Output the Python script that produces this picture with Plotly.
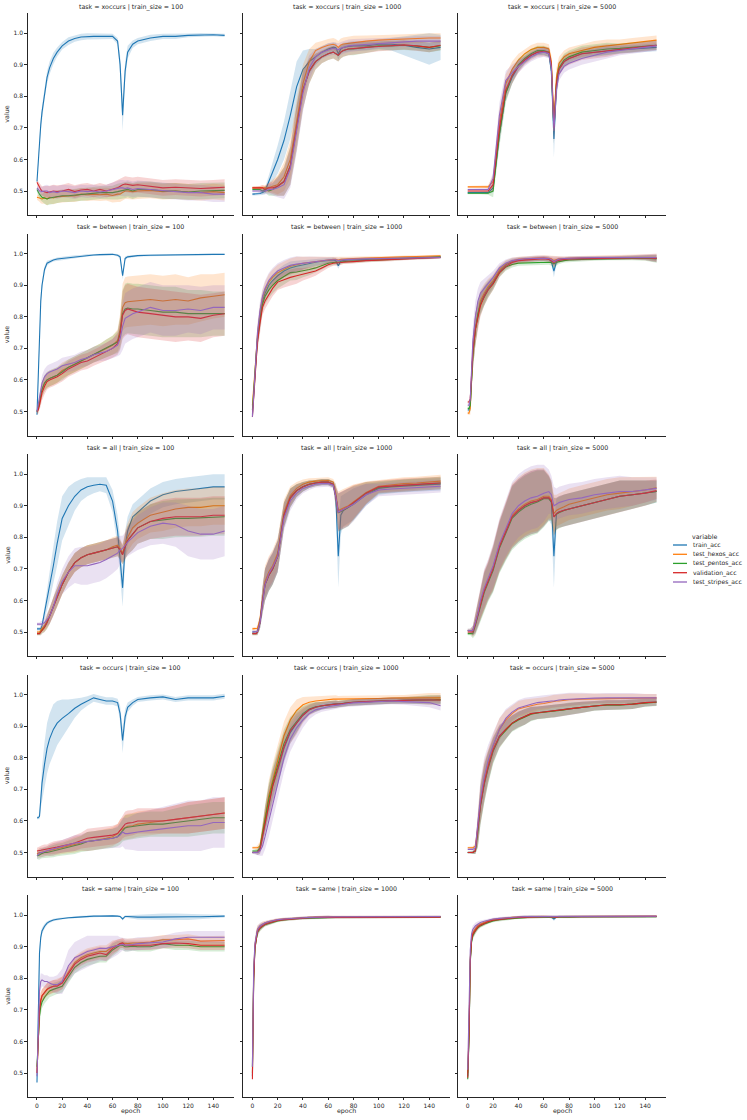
import plotly.graph_objects as go

# ---------------- data ----------------
EPOCHS = [0, 1, 2, 3, 4, 6, 8, 10, 13, 16, 20, 25, 30, 35, 40, 45, 50, 55, 60,
          64, 66, 68, 70, 72, 76, 80, 90, 100, 110, 120, 130, 140, 149]
TASKS = ["xoccurs", "between", "all", "occurs", "same"]
SIZES = [100, 1000, 5000]
SERIES = ["train_acc", "test_hexos_acc", "test_pentos_acc", "validation_acc", "test_stripes_acc"]
COLORS = ["#1f77b4", "#ff7f0e", "#2ca02c", "#d62728", "#9467bd"]
X_TICKS = [0, 20, 40, 60, 80, 100, 120, 140]
Y_TICKS = [0.5, 0.6, 0.7, 0.8, 0.9, 1.0]
Y_TICK_TEXT = ["0.5", "0.6", "0.7", "0.8", "0.9", "1.0"]

# ---- xoccurs / 100
xoccurs_100_train = [0.53, 0.60, 0.66, 0.71, 0.75, 0.81, 0.86, 0.89, 0.92, 0.94, 0.96, 0.975, 0.983, 0.988, 0.99, 0.99, 0.99, 0.99, 0.99, 0.975, 0.90, 0.74, 0.88, 0.94, 0.965, 0.975, 0.985, 0.99, 0.99, 0.993, 0.995, 0.995, 0.993]
xoccurs_100_hexos = [0.48, 0.48, 0.478, 0.476, 0.475, 0.478, 0.475, 0.48, 0.478, 0.482, 0.483, 0.485, 0.485, 0.49, 0.488, 0.49, 0.488, 0.49, 0.486, 0.49, 0.49, 0.495, 0.50, 0.50, 0.498, 0.50, 0.502, 0.498, 0.50, 0.497, 0.495, 0.498, 0.495]
xoccurs_100_pentos = [0.505, 0.495, 0.49, 0.485, 0.48, 0.478, 0.475, 0.478, 0.48, 0.482, 0.485, 0.485, 0.487, 0.49, 0.49, 0.492, 0.495, 0.495, 0.495, 0.498, 0.50, 0.50, 0.502, 0.505, 0.50, 0.505, 0.505, 0.50, 0.50, 0.497, 0.50, 0.50, 0.502]
xoccurs_100_val = [0.528, 0.52, 0.51, 0.505, 0.50, 0.498, 0.495, 0.497, 0.50, 0.498, 0.50, 0.505, 0.498, 0.503, 0.505, 0.50, 0.505, 0.50, 0.505, 0.51, 0.515, 0.52, 0.522, 0.52, 0.518, 0.52, 0.515, 0.51, 0.512, 0.51, 0.508, 0.51, 0.512]
xoccurs_100_stripes = [0.51, 0.505, 0.50, 0.50, 0.498, 0.50, 0.50, 0.495, 0.498, 0.495, 0.50, 0.498, 0.495, 0.50, 0.498, 0.50, 0.497, 0.50, 0.505, 0.508, 0.51, 0.51, 0.508, 0.51, 0.505, 0.508, 0.505, 0.50, 0.498, 0.495, 0.495, 0.49, 0.49]
xoccurs_100_ci_train = [0.005, 0.01, 0.015, 0.02, 0.02, 0.02, 0.02, 0.02, 0.018, 0.015, 0.012, 0.012, 0.01, 0.01, 0.01, 0.01, 0.008, 0.008, 0.008, 0.01, 0.03, 0.05, 0.03, 0.02, 0.012, 0.01, 0.01, 0.008, 0.008, 0.006, 0.006, 0.005, 0.005]
xoccurs_100_ci_test = [0.008, 0.01, 0.012, 0.015, 0.015, 0.018, 0.02, 0.02, 0.02, 0.02, 0.02, 0.02, 0.02, 0.02, 0.02, 0.02, 0.02, 0.02, 0.022, 0.025, 0.025, 0.025, 0.025, 0.025, 0.025, 0.025, 0.025, 0.025, 0.025, 0.025, 0.025, 0.025, 0.025]

# ---- xoccurs / 1000
xoccurs_1000_train = [0.49, 0.49, 0.49, 0.49, 0.49, 0.492, 0.495, 0.50, 0.53, 0.56, 0.60, 0.66, 0.74, 0.83, 0.885, 0.91, 0.925, 0.94, 0.95, 0.955, 0.955, 0.935, 0.95, 0.955, 0.958, 0.96, 0.96, 0.965, 0.965, 0.962, 0.955, 0.95, 0.955]
xoccurs_1000_hexos = [0.51, 0.51, 0.51, 0.51, 0.51, 0.51, 0.51, 0.508, 0.51, 0.515, 0.52, 0.545, 0.60, 0.72, 0.84, 0.91, 0.945, 0.955, 0.962, 0.965, 0.962, 0.955, 0.963, 0.966, 0.968, 0.972, 0.975, 0.978, 0.98, 0.982, 0.984, 0.985, 0.985]
xoccurs_1000_pentos = [0.505, 0.505, 0.505, 0.505, 0.505, 0.505, 0.50, 0.505, 0.50, 0.505, 0.515, 0.53, 0.58, 0.70, 0.82, 0.88, 0.91, 0.925, 0.935, 0.94, 0.935, 0.93, 0.94, 0.945, 0.95, 0.95, 0.955, 0.96, 0.96, 0.962, 0.96, 0.955, 0.96]
xoccurs_1000_val = [0.51, 0.51, 0.51, 0.51, 0.51, 0.51, 0.51, 0.505, 0.51, 0.51, 0.515, 0.53, 0.58, 0.70, 0.82, 0.88, 0.91, 0.925, 0.935, 0.94, 0.935, 0.93, 0.94, 0.945, 0.95, 0.952, 0.955, 0.958, 0.96, 0.963, 0.96, 0.955, 0.962]
xoccurs_1000_stripes = [0.50, 0.50, 0.50, 0.50, 0.50, 0.50, 0.50, 0.50, 0.505, 0.505, 0.51, 0.52, 0.57, 0.69, 0.81, 0.89, 0.925, 0.94, 0.948, 0.952, 0.95, 0.948, 0.952, 0.955, 0.96, 0.962, 0.965, 0.968, 0.97, 0.972, 0.975, 0.975, 0.975]
xoccurs_1000_ci_train = [0.004, 0.004, 0.004, 0.004, 0.004, 0.006, 0.008, 0.01, 0.02, 0.03, 0.045, 0.06, 0.075, 0.08, 0.06, 0.04, 0.025, 0.02, 0.018, 0.015, 0.015, 0.02, 0.015, 0.015, 0.015, 0.015, 0.015, 0.015, 0.02, 0.03, 0.04, 0.05, 0.04]
xoccurs_1000_ci_test = [0.004, 0.004, 0.004, 0.004, 0.004, 0.006, 0.008, 0.01, 0.015, 0.02, 0.03, 0.045, 0.06, 0.07, 0.06, 0.04, 0.025, 0.02, 0.02, 0.02, 0.02, 0.02, 0.02, 0.02, 0.02, 0.02, 0.018, 0.015, 0.015, 0.015, 0.015, 0.015, 0.015]

# ---- xoccurs / 5000
xoccurs_5000_train = [0.495, 0.495, 0.495, 0.495, 0.495, 0.495, 0.495, 0.495, 0.495, 0.495, 0.51, 0.68, 0.81, 0.86, 0.895, 0.915, 0.93, 0.94, 0.942, 0.935, 0.88, 0.665, 0.83, 0.885, 0.91, 0.92, 0.935, 0.94, 0.945, 0.948, 0.95, 0.952, 0.955]
xoccurs_5000_hexos = [0.513, 0.513, 0.513, 0.513, 0.513, 0.513, 0.513, 0.513, 0.513, 0.513, 0.53, 0.72, 0.84, 0.885, 0.915, 0.935, 0.948, 0.955, 0.955, 0.95, 0.91, 0.72, 0.86, 0.905, 0.925, 0.935, 0.945, 0.955, 0.96, 0.965, 0.97, 0.975, 0.978]
xoccurs_5000_pentos = [0.493, 0.493, 0.493, 0.493, 0.493, 0.493, 0.493, 0.493, 0.493, 0.493, 0.50, 0.68, 0.81, 0.865, 0.90, 0.92, 0.935, 0.945, 0.945, 0.94, 0.89, 0.69, 0.84, 0.89, 0.915, 0.925, 0.94, 0.945, 0.95, 0.952, 0.955, 0.96, 0.962]
xoccurs_5000_val = [0.50, 0.50, 0.50, 0.50, 0.50, 0.50, 0.50, 0.50, 0.50, 0.50, 0.52, 0.70, 0.82, 0.865, 0.895, 0.915, 0.93, 0.94, 0.942, 0.94, 0.90, 0.70, 0.84, 0.885, 0.91, 0.92, 0.935, 0.94, 0.945, 0.95, 0.955, 0.958, 0.962]
xoccurs_5000_stripes = [0.505, 0.505, 0.505, 0.505, 0.505, 0.505, 0.505, 0.505, 0.505, 0.505, 0.54, 0.74, 0.85, 0.875, 0.895, 0.91, 0.925, 0.935, 0.94, 0.935, 0.89, 0.69, 0.82, 0.87, 0.895, 0.905, 0.92, 0.93, 0.94, 0.945, 0.95, 0.955, 0.96]
xoccurs_5000_ci_train = [0.003, 0.003, 0.003, 0.003, 0.003, 0.003, 0.003, 0.003, 0.003, 0.004, 0.015, 0.03, 0.025, 0.02, 0.015, 0.012, 0.01, 0.01, 0.01, 0.012, 0.03, 0.06, 0.03, 0.02, 0.015, 0.012, 0.012, 0.012, 0.012, 0.012, 0.012, 0.012, 0.012]
xoccurs_5000_ci_test = [0.003, 0.003, 0.003, 0.003, 0.003, 0.003, 0.003, 0.003, 0.003, 0.005, 0.02, 0.04, 0.03, 0.025, 0.02, 0.015, 0.015, 0.015, 0.015, 0.015, 0.02, 0.04, 0.03, 0.02, 0.02, 0.02, 0.02, 0.02, 0.02, 0.015, 0.015, 0.015, 0.015]

# ---- between / 100
between_100_train = [0.49, 0.62, 0.75, 0.85, 0.90, 0.95, 0.97, 0.975, 0.98, 0.983, 0.985, 0.988, 0.99, 0.992, 0.995, 0.996, 0.997, 0.998, 0.998, 0.995, 0.99, 0.93, 0.985, 0.99, 0.992, 0.994, 0.995, 0.996, 0.997, 0.997, 0.997, 0.998, 0.998]
between_100_hexos = [0.50, 0.51, 0.53, 0.55, 0.57, 0.59, 0.60, 0.605, 0.61, 0.615, 0.63, 0.64, 0.65, 0.66, 0.67, 0.68, 0.69, 0.70, 0.71, 0.725, 0.76, 0.83, 0.845, 0.848, 0.85, 0.852, 0.855, 0.85, 0.855, 0.85, 0.86, 0.865, 0.87]
between_100_pentos = [0.50, 0.51, 0.53, 0.55, 0.57, 0.59, 0.60, 0.605, 0.61, 0.615, 0.625, 0.64, 0.65, 0.66, 0.67, 0.68, 0.69, 0.70, 0.71, 0.72, 0.75, 0.81, 0.825, 0.828, 0.825, 0.825, 0.82, 0.815, 0.815, 0.81, 0.81, 0.81, 0.81]
between_100_val = [0.50, 0.505, 0.52, 0.54, 0.56, 0.58, 0.595, 0.60, 0.605, 0.61, 0.62, 0.635, 0.645, 0.655, 0.66, 0.67, 0.68, 0.69, 0.70, 0.715, 0.745, 0.805, 0.82, 0.825, 0.82, 0.815, 0.81, 0.805, 0.80, 0.80, 0.795, 0.805, 0.81]
between_100_stripes = [0.50, 0.52, 0.55, 0.57, 0.59, 0.61, 0.62, 0.625, 0.63, 0.635, 0.645, 0.65, 0.655, 0.665, 0.67, 0.68, 0.685, 0.69, 0.70, 0.71, 0.73, 0.77, 0.795, 0.80, 0.81, 0.815, 0.83, 0.82, 0.82, 0.825, 0.82, 0.83, 0.83]
between_100_ci_train = [0.005, 0.02, 0.02, 0.02, 0.015, 0.01, 0.008, 0.006, 0.005, 0.005, 0.005, 0.005, 0.005, 0.004, 0.004, 0.003, 0.003, 0.003, 0.003, 0.004, 0.006, 0.012, 0.006, 0.004, 0.004, 0.003, 0.003, 0.003, 0.003, 0.003, 0.003, 0.002, 0.002]
between_100_ci_test = [0.008, 0.012, 0.018, 0.022, 0.025, 0.025, 0.025, 0.025, 0.025, 0.025, 0.025, 0.025, 0.025, 0.025, 0.025, 0.025, 0.025, 0.028, 0.03, 0.035, 0.05, 0.075, 0.08, 0.08, 0.08, 0.08, 0.08, 0.08, 0.08, 0.075, 0.075, 0.07, 0.07]

# ---- between / 1000
between_1000_train = [0.49, 0.55, 0.62, 0.68, 0.73, 0.80, 0.85, 0.875, 0.90, 0.915, 0.93, 0.945, 0.955, 0.96, 0.965, 0.97, 0.973, 0.976, 0.978, 0.98, 0.978, 0.962, 0.977, 0.979, 0.98, 0.98, 0.982, 0.984, 0.985, 0.987, 0.988, 0.99, 0.99]
between_1000_hexos = [0.52, 0.57, 0.63, 0.69, 0.74, 0.81, 0.86, 0.885, 0.91, 0.925, 0.94, 0.95, 0.96, 0.965, 0.97, 0.972, 0.975, 0.978, 0.98, 0.982, 0.982, 0.98, 0.982, 0.983, 0.984, 0.985, 0.986, 0.988, 0.989, 0.99, 0.991, 0.992, 0.993]
between_1000_pentos = [0.505, 0.55, 0.62, 0.68, 0.73, 0.79, 0.84, 0.865, 0.885, 0.90, 0.915, 0.928, 0.94, 0.942, 0.945, 0.95, 0.955, 0.962, 0.97, 0.972, 0.973, 0.972, 0.974, 0.975, 0.976, 0.977, 0.978, 0.98, 0.982, 0.984, 0.986, 0.988, 0.989]
between_1000_val = [0.483, 0.54, 0.61, 0.67, 0.72, 0.78, 0.83, 0.85, 0.87, 0.89, 0.91, 0.918, 0.925, 0.93, 0.935, 0.94, 0.945, 0.955, 0.965, 0.97, 0.97, 0.97, 0.972, 0.973, 0.975, 0.975, 0.978, 0.98, 0.98, 0.983, 0.985, 0.987, 0.988]
between_1000_stripes = [0.483, 0.55, 0.63, 0.70, 0.75, 0.82, 0.865, 0.89, 0.915, 0.93, 0.945, 0.955, 0.963, 0.967, 0.97, 0.973, 0.975, 0.978, 0.98, 0.981, 0.981, 0.978, 0.98, 0.981, 0.982, 0.982, 0.984, 0.985, 0.986, 0.987, 0.988, 0.988, 0.988]
between_1000_ci_train = [0.005, 0.02, 0.03, 0.03, 0.03, 0.03, 0.025, 0.02, 0.02, 0.02, 0.02, 0.02, 0.02, 0.018, 0.015, 0.012, 0.01, 0.01, 0.008, 0.008, 0.008, 0.01, 0.008, 0.006, 0.006, 0.006, 0.005, 0.005, 0.004, 0.004, 0.004, 0.004, 0.004]
between_1000_ci_test = [0.005, 0.02, 0.03, 0.03, 0.03, 0.03, 0.025, 0.025, 0.025, 0.025, 0.025, 0.025, 0.025, 0.025, 0.02, 0.018, 0.015, 0.012, 0.01, 0.008, 0.008, 0.008, 0.008, 0.006, 0.006, 0.006, 0.005, 0.005, 0.004, 0.004, 0.004, 0.004, 0.004]

# ---- between / 5000
between_5000_train = [0.505, 0.505, 0.52, 0.60, 0.68, 0.76, 0.81, 0.845, 0.87, 0.89, 0.91, 0.945, 0.965, 0.975, 0.98, 0.982, 0.983, 0.984, 0.985, 0.983, 0.975, 0.945, 0.975, 0.98, 0.982, 0.984, 0.985, 0.986, 0.987, 0.988, 0.988, 0.988, 0.985]
between_5000_hexos = [0.495, 0.495, 0.51, 0.60, 0.68, 0.76, 0.81, 0.85, 0.875, 0.895, 0.915, 0.948, 0.967, 0.977, 0.982, 0.984, 0.985, 0.986, 0.987, 0.986, 0.984, 0.978, 0.982, 0.984, 0.985, 0.986, 0.987, 0.988, 0.988, 0.989, 0.989, 0.99, 0.988]
between_5000_pentos = [0.51, 0.51, 0.52, 0.60, 0.68, 0.76, 0.81, 0.84, 0.865, 0.885, 0.905, 0.94, 0.958, 0.966, 0.97, 0.971, 0.972, 0.972, 0.973, 0.973, 0.972, 0.968, 0.972, 0.975, 0.978, 0.98, 0.982, 0.983, 0.984, 0.985, 0.985, 0.986, 0.983]
between_5000_val = [0.53, 0.53, 0.54, 0.61, 0.69, 0.76, 0.80, 0.835, 0.865, 0.885, 0.905, 0.94, 0.96, 0.972, 0.978, 0.98, 0.982, 0.983, 0.984, 0.982, 0.978, 0.972, 0.978, 0.98, 0.982, 0.983, 0.984, 0.985, 0.986, 0.987, 0.987, 0.987, 0.985]
between_5000_stripes = [0.52, 0.52, 0.54, 0.63, 0.72, 0.80, 0.85, 0.875, 0.89, 0.905, 0.925, 0.955, 0.97, 0.978, 0.982, 0.984, 0.985, 0.986, 0.986, 0.985, 0.982, 0.975, 0.98, 0.983, 0.985, 0.986, 0.987, 0.988, 0.988, 0.988, 0.989, 0.99, 0.988]
between_5000_ci_train = [0.005, 0.005, 0.02, 0.04, 0.05, 0.05, 0.04, 0.035, 0.03, 0.025, 0.02, 0.015, 0.012, 0.01, 0.008, 0.008, 0.008, 0.008, 0.008, 0.008, 0.01, 0.02, 0.01, 0.008, 0.006, 0.006, 0.006, 0.005, 0.005, 0.005, 0.006, 0.008, 0.012]
between_5000_ci_test = [0.005, 0.005, 0.02, 0.04, 0.05, 0.05, 0.04, 0.035, 0.03, 0.025, 0.02, 0.015, 0.012, 0.01, 0.008, 0.008, 0.008, 0.008, 0.008, 0.008, 0.01, 0.015, 0.01, 0.008, 0.006, 0.006, 0.006, 0.005, 0.005, 0.005, 0.006, 0.008, 0.012]

# ---- all / 100
all_100_train = [0.51, 0.51, 0.51, 0.51, 0.52, 0.56, 0.60, 0.645, 0.71, 0.78, 0.86, 0.90, 0.93, 0.95, 0.96, 0.965, 0.968, 0.965, 0.915, 0.82, 0.74, 0.64, 0.77, 0.82, 0.865, 0.88, 0.915, 0.935, 0.945, 0.95, 0.955, 0.96, 0.96]
all_100_hexos = [0.50, 0.50, 0.50, 0.505, 0.51, 0.52, 0.535, 0.55, 0.58, 0.61, 0.65, 0.69, 0.72, 0.735, 0.745, 0.75, 0.755, 0.76, 0.77, 0.775, 0.765, 0.75, 0.78, 0.80, 0.83, 0.845, 0.87, 0.88, 0.89, 0.895, 0.895, 0.90, 0.90]
all_100_pentos = [0.495, 0.495, 0.495, 0.50, 0.505, 0.515, 0.53, 0.55, 0.58, 0.61, 0.65, 0.69, 0.72, 0.735, 0.745, 0.75, 0.755, 0.76, 0.765, 0.77, 0.76, 0.745, 0.77, 0.79, 0.81, 0.83, 0.85, 0.855, 0.86, 0.86, 0.862, 0.865, 0.865]
all_100_val = [0.495, 0.495, 0.495, 0.50, 0.505, 0.515, 0.53, 0.55, 0.58, 0.61, 0.65, 0.69, 0.72, 0.735, 0.745, 0.75, 0.755, 0.76, 0.765, 0.77, 0.76, 0.745, 0.77, 0.79, 0.81, 0.83, 0.85, 0.86, 0.865, 0.865, 0.865, 0.87, 0.87]
all_100_stripes = [0.525, 0.525, 0.525, 0.525, 0.525, 0.53, 0.54, 0.55, 0.58, 0.62, 0.66, 0.69, 0.71, 0.71, 0.71, 0.715, 0.72, 0.73, 0.74, 0.75, 0.76, 0.765, 0.775, 0.785, 0.80, 0.815, 0.835, 0.845, 0.84, 0.82, 0.81, 0.81, 0.82]
all_100_ci_train = [0.005, 0.005, 0.005, 0.008, 0.01, 0.02, 0.03, 0.045, 0.06, 0.07, 0.07, 0.06, 0.045, 0.035, 0.03, 0.025, 0.022, 0.025, 0.035, 0.05, 0.06, 0.06, 0.05, 0.045, 0.04, 0.04, 0.04, 0.04, 0.04, 0.04, 0.04, 0.04, 0.04]
all_100_ci_test = [0.005, 0.005, 0.005, 0.01, 0.01, 0.015, 0.02, 0.025, 0.03, 0.03, 0.03, 0.03, 0.03, 0.03, 0.03, 0.03, 0.03, 0.03, 0.03, 0.03, 0.03, 0.03, 0.04, 0.045, 0.05, 0.05, 0.055, 0.06, 0.06, 0.06, 0.06, 0.06, 0.06]
all_100_ci_stripes = [0.005, 0.005, 0.005, 0.01, 0.01, 0.015, 0.02, 0.025, 0.03, 0.035, 0.04, 0.05, 0.055, 0.06, 0.06, 0.06, 0.06, 0.06, 0.055, 0.05, 0.045, 0.04, 0.04, 0.045, 0.05, 0.055, 0.06, 0.065, 0.07, 0.08, 0.08, 0.08, 0.08]

# ---- all / 1000
all_1000_train = [0.50, 0.50, 0.50, 0.50, 0.502, 0.53, 0.60, 0.65, 0.68, 0.70, 0.74, 0.87, 0.925, 0.948, 0.96, 0.968, 0.972, 0.975, 0.975, 0.968, 0.93, 0.74, 0.87, 0.885, 0.895, 0.905, 0.935, 0.955, 0.96, 0.963, 0.965, 0.967, 0.968]
all_1000_hexos = [0.51, 0.51, 0.51, 0.51, 0.512, 0.54, 0.61, 0.66, 0.69, 0.71, 0.75, 0.88, 0.932, 0.955, 0.968, 0.975, 0.978, 0.98, 0.98, 0.975, 0.94, 0.885, 0.89, 0.893, 0.90, 0.912, 0.942, 0.962, 0.967, 0.97, 0.972, 0.975, 0.978]
all_1000_pentos = [0.495, 0.495, 0.495, 0.495, 0.50, 0.53, 0.60, 0.65, 0.68, 0.70, 0.74, 0.87, 0.925, 0.948, 0.96, 0.968, 0.972, 0.975, 0.975, 0.968, 0.93, 0.878, 0.882, 0.886, 0.895, 0.908, 0.94, 0.958, 0.962, 0.965, 0.967, 0.97, 0.972]
all_1000_val = [0.495, 0.495, 0.495, 0.495, 0.50, 0.53, 0.60, 0.65, 0.68, 0.70, 0.74, 0.87, 0.925, 0.948, 0.96, 0.968, 0.972, 0.975, 0.975, 0.968, 0.93, 0.88, 0.884, 0.888, 0.897, 0.91, 0.94, 0.96, 0.963, 0.966, 0.968, 0.97, 0.972]
all_1000_stripes = [0.50, 0.50, 0.50, 0.50, 0.502, 0.53, 0.60, 0.65, 0.685, 0.705, 0.74, 0.86, 0.915, 0.94, 0.955, 0.962, 0.968, 0.97, 0.97, 0.965, 0.93, 0.88, 0.884, 0.888, 0.895, 0.905, 0.935, 0.95, 0.953, 0.955, 0.957, 0.96, 0.962]
all_1000_ci_train = [0.005, 0.005, 0.005, 0.005, 0.01, 0.02, 0.04, 0.05, 0.05, 0.05, 0.05, 0.04, 0.03, 0.02, 0.015, 0.012, 0.01, 0.01, 0.01, 0.01, 0.04, 0.10, 0.06, 0.05, 0.05, 0.05, 0.035, 0.02, 0.02, 0.02, 0.02, 0.02, 0.02]
all_1000_ci_test = [0.005, 0.005, 0.005, 0.005, 0.01, 0.02, 0.04, 0.05, 0.05, 0.05, 0.05, 0.04, 0.03, 0.02, 0.015, 0.012, 0.01, 0.01, 0.01, 0.01, 0.03, 0.06, 0.06, 0.06, 0.06, 0.055, 0.035, 0.02, 0.02, 0.02, 0.02, 0.02, 0.02]

# ---- all / 5000
all_5000_train = [0.505, 0.505, 0.505, 0.505, 0.505, 0.525, 0.555, 0.59, 0.63, 0.66, 0.70, 0.77, 0.82, 0.865, 0.885, 0.90, 0.91, 0.915, 0.925, 0.925, 0.91, 0.74, 0.875, 0.88, 0.886, 0.89, 0.90, 0.91, 0.92, 0.93, 0.935, 0.94, 0.945]
all_5000_hexos = [0.505, 0.505, 0.505, 0.505, 0.505, 0.53, 0.56, 0.595, 0.635, 0.665, 0.705, 0.775, 0.825, 0.87, 0.89, 0.905, 0.915, 0.92, 0.93, 0.93, 0.92, 0.875, 0.885, 0.89, 0.897, 0.905, 0.915, 0.925, 0.935, 0.94, 0.945, 0.95, 0.957]
all_5000_pentos = [0.495, 0.495, 0.495, 0.495, 0.495, 0.52, 0.55, 0.585, 0.625, 0.655, 0.695, 0.765, 0.815, 0.86, 0.88, 0.895, 0.905, 0.912, 0.922, 0.922, 0.912, 0.865, 0.873, 0.878, 0.885, 0.89, 0.90, 0.91, 0.92, 0.93, 0.935, 0.94, 0.945]
all_5000_val = [0.50, 0.50, 0.50, 0.50, 0.50, 0.525, 0.555, 0.59, 0.63, 0.66, 0.70, 0.77, 0.82, 0.865, 0.885, 0.90, 0.91, 0.915, 0.925, 0.925, 0.915, 0.865, 0.875, 0.88, 0.886, 0.89, 0.90, 0.91, 0.92, 0.93, 0.935, 0.94, 0.948]
all_5000_stripes = [0.505, 0.505, 0.505, 0.505, 0.505, 0.53, 0.56, 0.60, 0.64, 0.67, 0.71, 0.78, 0.83, 0.875, 0.90, 0.915, 0.925, 0.93, 0.94, 0.945, 0.935, 0.90, 0.905, 0.91, 0.915, 0.92, 0.925, 0.935, 0.94, 0.945, 0.945, 0.95, 0.955]
all_5000_ci_train = [0.005, 0.005, 0.005, 0.01, 0.015, 0.03, 0.04, 0.05, 0.06, 0.06, 0.07, 0.08, 0.09, 0.10, 0.10, 0.10, 0.10, 0.10, 0.09, 0.07, 0.07, 0.10, 0.05, 0.05, 0.05, 0.05, 0.05, 0.05, 0.05, 0.05, 0.045, 0.04, 0.035]
all_5000_ci_test = [0.005, 0.005, 0.005, 0.01, 0.015, 0.03, 0.04, 0.05, 0.06, 0.06, 0.07, 0.08, 0.09, 0.10, 0.10, 0.10, 0.10, 0.10, 0.09, 0.07, 0.06, 0.06, 0.05, 0.05, 0.05, 0.05, 0.05, 0.05, 0.05, 0.05, 0.045, 0.04, 0.035]

# ---- occurs / 100
occurs_100_train = [0.61, 0.61, 0.615, 0.67, 0.72, 0.78, 0.83, 0.86, 0.89, 0.91, 0.925, 0.94, 0.957, 0.97, 0.98, 0.99, 0.985, 0.98, 0.98, 0.975, 0.94, 0.855, 0.93, 0.96, 0.975, 0.985, 0.99, 0.993, 0.985, 0.99, 0.99, 0.99, 0.995]
occurs_100_hexos = [0.495, 0.498, 0.50, 0.50, 0.50, 0.502, 0.505, 0.507, 0.51, 0.512, 0.515, 0.52, 0.525, 0.53, 0.535, 0.537, 0.54, 0.545, 0.55, 0.56, 0.57, 0.575, 0.58, 0.583, 0.585, 0.59, 0.595, 0.60, 0.605, 0.61, 0.615, 0.62, 0.625]
occurs_100_pentos = [0.49, 0.49, 0.492, 0.495, 0.497, 0.50, 0.50, 0.502, 0.505, 0.508, 0.51, 0.515, 0.52, 0.527, 0.535, 0.538, 0.54, 0.543, 0.545, 0.55, 0.56, 0.57, 0.578, 0.58, 0.583, 0.585, 0.59, 0.59, 0.595, 0.60, 0.605, 0.61, 0.61]
occurs_100_val = [0.505, 0.505, 0.505, 0.507, 0.508, 0.51, 0.51, 0.512, 0.515, 0.517, 0.52, 0.525, 0.53, 0.538, 0.545, 0.548, 0.55, 0.553, 0.555, 0.56, 0.57, 0.58, 0.59, 0.593, 0.595, 0.60, 0.60, 0.60, 0.605, 0.61, 0.615, 0.62, 0.625]
occurs_100_stripes = [0.49, 0.495, 0.498, 0.50, 0.50, 0.503, 0.505, 0.507, 0.51, 0.515, 0.52, 0.525, 0.53, 0.532, 0.535, 0.537, 0.54, 0.543, 0.545, 0.55, 0.555, 0.565, 0.56, 0.56, 0.563, 0.565, 0.57, 0.575, 0.58, 0.585, 0.585, 0.595, 0.595]
occurs_100_ci_train = [0.005, 0.005, 0.01, 0.03, 0.05, 0.07, 0.08, 0.08, 0.08, 0.07, 0.06, 0.045, 0.03, 0.02, 0.015, 0.012, 0.012, 0.012, 0.012, 0.012, 0.025, 0.04, 0.025, 0.015, 0.01, 0.008, 0.008, 0.008, 0.008, 0.008, 0.008, 0.008, 0.008]
occurs_100_ci_test = [0.01, 0.012, 0.015, 0.015, 0.015, 0.015, 0.015, 0.018, 0.02, 0.02, 0.02, 0.022, 0.025, 0.025, 0.03, 0.03, 0.03, 0.03, 0.03, 0.03, 0.035, 0.035, 0.04, 0.04, 0.04, 0.04, 0.04, 0.04, 0.045, 0.05, 0.05, 0.05, 0.05]
occurs_100_ci_stripes = [0.01, 0.012, 0.015, 0.015, 0.015, 0.015, 0.015, 0.018, 0.02, 0.02, 0.02, 0.022, 0.025, 0.025, 0.03, 0.03, 0.03, 0.03, 0.03, 0.035, 0.04, 0.045, 0.05, 0.05, 0.055, 0.06, 0.065, 0.07, 0.075, 0.08, 0.08, 0.08, 0.08]

# ---- occurs / 1000
occurs_1000_train = [0.50, 0.50, 0.50, 0.50, 0.50, 0.51, 0.55, 0.60, 0.66, 0.71, 0.76, 0.83, 0.88, 0.91, 0.935, 0.952, 0.96, 0.965, 0.968, 0.97, 0.97, 0.97, 0.972, 0.972, 0.974, 0.976, 0.978, 0.98, 0.981, 0.982, 0.983, 0.983, 0.983]
occurs_1000_hexos = [0.515, 0.515, 0.515, 0.515, 0.515, 0.52, 0.56, 0.61, 0.68, 0.73, 0.79, 0.87, 0.92, 0.95, 0.968, 0.976, 0.98, 0.983, 0.985, 0.986, 0.986, 0.986, 0.987, 0.987, 0.987, 0.987, 0.988, 0.988, 0.989, 0.989, 0.99, 0.99, 0.99]
occurs_1000_pentos = [0.505, 0.505, 0.505, 0.505, 0.505, 0.515, 0.56, 0.61, 0.67, 0.72, 0.775, 0.845, 0.89, 0.915, 0.94, 0.955, 0.962, 0.965, 0.968, 0.97, 0.97, 0.97, 0.972, 0.973, 0.975, 0.976, 0.978, 0.98, 0.981, 0.982, 0.983, 0.984, 0.984]
occurs_1000_val = [0.50, 0.50, 0.50, 0.50, 0.50, 0.51, 0.55, 0.60, 0.66, 0.71, 0.765, 0.835, 0.885, 0.91, 0.935, 0.952, 0.96, 0.965, 0.968, 0.97, 0.97, 0.97, 0.972, 0.972, 0.974, 0.976, 0.978, 0.98, 0.981, 0.982, 0.983, 0.983, 0.983]
occurs_1000_stripes = [0.50, 0.50, 0.50, 0.50, 0.50, 0.505, 0.52, 0.55, 0.60, 0.65, 0.72, 0.80, 0.86, 0.895, 0.92, 0.94, 0.952, 0.958, 0.962, 0.965, 0.967, 0.967, 0.968, 0.97, 0.972, 0.974, 0.976, 0.978, 0.98, 0.978, 0.977, 0.975, 0.965]
occurs_1000_ci_train = [0.004, 0.004, 0.004, 0.005, 0.008, 0.015, 0.03, 0.04, 0.05, 0.05, 0.05, 0.045, 0.035, 0.03, 0.02, 0.015, 0.015, 0.012, 0.012, 0.012, 0.012, 0.01, 0.01, 0.01, 0.01, 0.01, 0.01, 0.01, 0.01, 0.01, 0.01, 0.012, 0.012]
occurs_1000_ci_test = [0.004, 0.004, 0.004, 0.005, 0.008, 0.015, 0.03, 0.04, 0.05, 0.05, 0.05, 0.045, 0.04, 0.035, 0.025, 0.018, 0.015, 0.012, 0.012, 0.012, 0.012, 0.01, 0.01, 0.01, 0.01, 0.01, 0.01, 0.01, 0.01, 0.01, 0.012, 0.015, 0.015]

# ---- occurs / 5000
occurs_5000_train = [0.50, 0.50, 0.50, 0.50, 0.50, 0.505, 0.57, 0.65, 0.72, 0.77, 0.825, 0.87, 0.89, 0.91, 0.922, 0.93, 0.94, 0.943, 0.945, 0.947, 0.948, 0.948, 0.95, 0.95, 0.952, 0.955, 0.96, 0.965, 0.968, 0.968, 0.97, 0.975, 0.977]
occurs_5000_hexos = [0.515, 0.515, 0.515, 0.515, 0.515, 0.52, 0.58, 0.66, 0.73, 0.78, 0.835, 0.89, 0.92, 0.94, 0.955, 0.96, 0.965, 0.97, 0.972, 0.975, 0.978, 0.98, 0.98, 0.98, 0.982, 0.984, 0.986, 0.987, 0.988, 0.988, 0.989, 0.99, 0.99]
occurs_5000_pentos = [0.50, 0.50, 0.50, 0.50, 0.50, 0.505, 0.565, 0.645, 0.715, 0.765, 0.82, 0.865, 0.888, 0.908, 0.92, 0.93, 0.938, 0.942, 0.944, 0.946, 0.947, 0.948, 0.95, 0.95, 0.952, 0.955, 0.96, 0.964, 0.967, 0.967, 0.97, 0.974, 0.976]
occurs_5000_val = [0.50, 0.50, 0.50, 0.50, 0.50, 0.505, 0.57, 0.65, 0.72, 0.77, 0.825, 0.868, 0.89, 0.91, 0.922, 0.93, 0.94, 0.943, 0.945, 0.947, 0.948, 0.948, 0.95, 0.95, 0.952, 0.955, 0.96, 0.965, 0.968, 0.968, 0.97, 0.975, 0.977]
occurs_5000_stripes = [0.51, 0.51, 0.51, 0.51, 0.51, 0.515, 0.585, 0.67, 0.74, 0.79, 0.84, 0.89, 0.925, 0.945, 0.958, 0.965, 0.97, 0.975, 0.978, 0.98, 0.98, 0.98, 0.982, 0.983, 0.985, 0.986, 0.988, 0.989, 0.99, 0.99, 0.99, 0.99, 0.99]
occurs_5000_ci_train = [0.003, 0.003, 0.003, 0.003, 0.005, 0.01, 0.05, 0.06, 0.06, 0.05, 0.04, 0.035, 0.03, 0.025, 0.025, 0.025, 0.022, 0.02, 0.02, 0.02, 0.02, 0.02, 0.02, 0.02, 0.02, 0.02, 0.018, 0.015, 0.015, 0.015, 0.015, 0.012, 0.012]
occurs_5000_ci_test = [0.003, 0.003, 0.003, 0.003, 0.005, 0.01, 0.05, 0.06, 0.06, 0.05, 0.04, 0.035, 0.03, 0.025, 0.025, 0.025, 0.022, 0.02, 0.02, 0.02, 0.02, 0.02, 0.02, 0.02, 0.02, 0.02, 0.018, 0.015, 0.015, 0.015, 0.015, 0.012, 0.012]

# ---- same / 100
same_100_train = [0.47, 0.75, 0.88, 0.93, 0.95, 0.965, 0.975, 0.98, 0.985, 0.987, 0.99, 0.992, 0.993, 0.995, 0.996, 0.997, 0.997, 0.998, 0.998, 0.997, 0.996, 0.988, 0.996, 0.996, 0.995, 0.994, 0.994, 0.995, 0.995, 0.995, 0.995, 0.996, 0.997]
same_100_hexos = [0.50, 0.62, 0.70, 0.73, 0.745, 0.755, 0.765, 0.77, 0.775, 0.78, 0.785, 0.82, 0.85, 0.865, 0.875, 0.88, 0.885, 0.885, 0.90, 0.905, 0.91, 0.912, 0.91, 0.91, 0.912, 0.912, 0.915, 0.922, 0.922, 0.925, 0.918, 0.92, 0.92]
same_100_pentos = [0.52, 0.61, 0.68, 0.71, 0.725, 0.74, 0.75, 0.76, 0.765, 0.77, 0.775, 0.805, 0.835, 0.85, 0.86, 0.865, 0.87, 0.87, 0.89, 0.90, 0.905, 0.905, 0.90, 0.90, 0.902, 0.90, 0.90, 0.91, 0.905, 0.905, 0.90, 0.90, 0.90]
same_100_val = [0.50, 0.62, 0.70, 0.73, 0.745, 0.755, 0.765, 0.77, 0.775, 0.775, 0.785, 0.815, 0.845, 0.86, 0.87, 0.875, 0.88, 0.875, 0.895, 0.905, 0.91, 0.912, 0.905, 0.905, 0.905, 0.905, 0.905, 0.91, 0.912, 0.91, 0.905, 0.905, 0.905]
same_100_stripes = [0.49, 0.65, 0.76, 0.79, 0.795, 0.79, 0.79, 0.785, 0.78, 0.78, 0.79, 0.84, 0.865, 0.875, 0.885, 0.89, 0.895, 0.895, 0.90, 0.905, 0.905, 0.908, 0.905, 0.905, 0.907, 0.91, 0.912, 0.915, 0.925, 0.93, 0.93, 0.93, 0.93]
same_100_ci_train = [0.005, 0.03, 0.02, 0.015, 0.01, 0.008, 0.006, 0.005, 0.004, 0.004, 0.003, 0.003, 0.003, 0.003, 0.003, 0.003, 0.003, 0.003, 0.003, 0.003, 0.003, 0.005, 0.004, 0.004, 0.006, 0.008, 0.01, 0.01, 0.01, 0.01, 0.008, 0.006, 0.004]
same_100_ci_test = [0.01, 0.03, 0.03, 0.025, 0.02, 0.02, 0.02, 0.02, 0.02, 0.02, 0.02, 0.02, 0.02, 0.02, 0.02, 0.02, 0.02, 0.02, 0.02, 0.018, 0.015, 0.015, 0.015, 0.015, 0.015, 0.015, 0.015, 0.015, 0.015, 0.015, 0.015, 0.015, 0.015]
same_100_ci_stripes = [0.01, 0.03, 0.03, 0.025, 0.02, 0.02, 0.02, 0.02, 0.025, 0.03, 0.04, 0.05, 0.05, 0.05, 0.05, 0.045, 0.04, 0.04, 0.035, 0.03, 0.025, 0.02, 0.02, 0.02, 0.02, 0.02, 0.02, 0.02, 0.02, 0.02, 0.02, 0.02, 0.02]

# ---- same / 1000
same_1000_train = [0.49, 0.80, 0.90, 0.935, 0.95, 0.962, 0.968, 0.972, 0.976, 0.98, 0.984, 0.987, 0.989, 0.99, 0.991, 0.992, 0.993, 0.993, 0.994, 0.994, 0.994, 0.994, 0.994, 0.994, 0.994, 0.995, 0.995, 0.995, 0.995, 0.995, 0.995, 0.995, 0.995]
same_1000_hexos = [0.50, 0.81, 0.905, 0.94, 0.955, 0.965, 0.972, 0.976, 0.98, 0.983, 0.986, 0.988, 0.99, 0.991, 0.992, 0.993, 0.994, 0.994, 0.995, 0.995, 0.995, 0.995, 0.995, 0.995, 0.995, 0.995, 0.996, 0.996, 0.996, 0.996, 0.996, 0.996, 0.996]
same_1000_pentos = [0.52, 0.80, 0.895, 0.93, 0.945, 0.958, 0.965, 0.97, 0.974, 0.978, 0.982, 0.985, 0.988, 0.989, 0.99, 0.991, 0.992, 0.992, 0.993, 0.993, 0.993, 0.993, 0.993, 0.993, 0.993, 0.993, 0.994, 0.994, 0.994, 0.994, 0.994, 0.994, 0.994]
same_1000_val = [0.48, 0.79, 0.895, 0.93, 0.948, 0.96, 0.967, 0.971, 0.975, 0.979, 0.983, 0.986, 0.988, 0.99, 0.991, 0.992, 0.993, 0.993, 0.993, 0.993, 0.993, 0.993, 0.993, 0.993, 0.993, 0.993, 0.994, 0.994, 0.994, 0.994, 0.994, 0.994, 0.994]
same_1000_stripes = [0.52, 0.83, 0.91, 0.94, 0.955, 0.966, 0.972, 0.976, 0.98, 0.983, 0.986, 0.988, 0.99, 0.991, 0.992, 0.993, 0.994, 0.994, 0.995, 0.995, 0.995, 0.995, 0.995, 0.995, 0.995, 0.995, 0.996, 0.996, 0.996, 0.996, 0.996, 0.996, 0.996]
same_1000_ci_train = [0.01, 0.03, 0.02, 0.015, 0.012, 0.01, 0.008, 0.006, 0.005, 0.005, 0.004, 0.004, 0.004, 0.004, 0.004, 0.004, 0.004, 0.004, 0.004, 0.003, 0.003, 0.003, 0.003, 0.003, 0.003, 0.003, 0.003, 0.003, 0.003, 0.003, 0.003, 0.003, 0.003]
same_1000_ci_test = [0.01, 0.03, 0.02, 0.015, 0.012, 0.01, 0.008, 0.006, 0.005, 0.005, 0.004, 0.004, 0.004, 0.004, 0.004, 0.004, 0.004, 0.004, 0.004, 0.003, 0.003, 0.003, 0.003, 0.003, 0.003, 0.003, 0.003, 0.003, 0.003, 0.003, 0.003, 0.003, 0.003]

# ---- same / 5000
same_5000_train = [0.49, 0.62, 0.86, 0.92, 0.94, 0.955, 0.965, 0.97, 0.975, 0.98, 0.985, 0.988, 0.99, 0.992, 0.994, 0.995, 0.995, 0.995, 0.995, 0.995, 0.994, 0.988, 0.994, 0.995, 0.995, 0.995, 0.996, 0.996, 0.996, 0.996, 0.996, 0.996, 0.996]
same_5000_hexos = [0.50, 0.63, 0.865, 0.925, 0.945, 0.958, 0.967, 0.972, 0.977, 0.982, 0.986, 0.989, 0.991, 0.993, 0.994, 0.995, 0.995, 0.996, 0.996, 0.996, 0.995, 0.994, 0.995, 0.996, 0.996, 0.996, 0.997, 0.997, 0.997, 0.997, 0.997, 0.997, 0.997]
same_5000_pentos = [0.48, 0.61, 0.85, 0.915, 0.935, 0.95, 0.96, 0.966, 0.972, 0.977, 0.982, 0.986, 0.988, 0.99, 0.992, 0.993, 0.994, 0.994, 0.994, 0.994, 0.993, 0.992, 0.993, 0.994, 0.994, 0.994, 0.995, 0.995, 0.995, 0.995, 0.995, 0.995, 0.995]
same_5000_val = [0.485, 0.62, 0.855, 0.92, 0.94, 0.953, 0.963, 0.968, 0.974, 0.979, 0.984, 0.987, 0.989, 0.991, 0.993, 0.994, 0.994, 0.995, 0.995, 0.995, 0.994, 0.993, 0.994, 0.995, 0.995, 0.995, 0.996, 0.996, 0.996, 0.996, 0.996, 0.996, 0.996]
same_5000_stripes = [0.51, 0.66, 0.89, 0.94, 0.955, 0.966, 0.973, 0.977, 0.981, 0.985, 0.988, 0.99, 0.992, 0.994, 0.995, 0.996, 0.996, 0.996, 0.996, 0.996, 0.996, 0.995, 0.996, 0.996, 0.996, 0.996, 0.997, 0.997, 0.997, 0.997, 0.997, 0.997, 0.997]
same_5000_ci_train = [0.01, 0.03, 0.025, 0.015, 0.012, 0.01, 0.008, 0.006, 0.005, 0.005, 0.004, 0.004, 0.004, 0.004, 0.004, 0.004, 0.004, 0.004, 0.004, 0.003, 0.003, 0.006, 0.003, 0.003, 0.003, 0.003, 0.003, 0.003, 0.003, 0.003, 0.003, 0.003, 0.003]
same_5000_ci_test = [0.01, 0.03, 0.025, 0.015, 0.012, 0.01, 0.008, 0.006, 0.005, 0.005, 0.004, 0.004, 0.004, 0.004, 0.004, 0.004, 0.004, 0.004, 0.004, 0.003, 0.003, 0.004, 0.003, 0.003, 0.003, 0.003, 0.003, 0.003, 0.003, 0.003, 0.003, 0.003, 0.003]

# (mean list, ci list) per series, per panel
PANELS = {
    ("xoccurs", 100): [(xoccurs_100_train, xoccurs_100_ci_train), (xoccurs_100_hexos, xoccurs_100_ci_test), (xoccurs_100_pentos, xoccurs_100_ci_test), (xoccurs_100_val, xoccurs_100_ci_test), (xoccurs_100_stripes, xoccurs_100_ci_test)],
    ("xoccurs", 1000): [(xoccurs_1000_train, xoccurs_1000_ci_train), (xoccurs_1000_hexos, xoccurs_1000_ci_test), (xoccurs_1000_pentos, xoccurs_1000_ci_test), (xoccurs_1000_val, xoccurs_1000_ci_test), (xoccurs_1000_stripes, xoccurs_1000_ci_test)],
    ("xoccurs", 5000): [(xoccurs_5000_train, xoccurs_5000_ci_train), (xoccurs_5000_hexos, xoccurs_5000_ci_test), (xoccurs_5000_pentos, xoccurs_5000_ci_test), (xoccurs_5000_val, xoccurs_5000_ci_test), (xoccurs_5000_stripes, xoccurs_5000_ci_test)],
    ("between", 100): [(between_100_train, between_100_ci_train), (between_100_hexos, between_100_ci_test), (between_100_pentos, between_100_ci_test), (between_100_val, between_100_ci_test), (between_100_stripes, between_100_ci_test)],
    ("between", 1000): [(between_1000_train, between_1000_ci_train), (between_1000_hexos, between_1000_ci_test), (between_1000_pentos, between_1000_ci_test), (between_1000_val, between_1000_ci_test), (between_1000_stripes, between_1000_ci_test)],
    ("between", 5000): [(between_5000_train, between_5000_ci_train), (between_5000_hexos, between_5000_ci_test), (between_5000_pentos, between_5000_ci_test), (between_5000_val, between_5000_ci_test), (between_5000_stripes, between_5000_ci_test)],
    ("all", 100): [(all_100_train, all_100_ci_train), (all_100_hexos, all_100_ci_test), (all_100_pentos, all_100_ci_test), (all_100_val, all_100_ci_test), (all_100_stripes, all_100_ci_stripes)],
    ("all", 1000): [(all_1000_train, all_1000_ci_train), (all_1000_hexos, all_1000_ci_test), (all_1000_pentos, all_1000_ci_test), (all_1000_val, all_1000_ci_test), (all_1000_stripes, all_1000_ci_test)],
    ("all", 5000): [(all_5000_train, all_5000_ci_train), (all_5000_hexos, all_5000_ci_test), (all_5000_pentos, all_5000_ci_test), (all_5000_val, all_5000_ci_test), (all_5000_stripes, all_5000_ci_test)],
    ("occurs", 100): [(occurs_100_train, occurs_100_ci_train), (occurs_100_hexos, occurs_100_ci_test), (occurs_100_pentos, occurs_100_ci_test), (occurs_100_val, occurs_100_ci_test), (occurs_100_stripes, occurs_100_ci_stripes)],
    ("occurs", 1000): [(occurs_1000_train, occurs_1000_ci_train), (occurs_1000_hexos, occurs_1000_ci_test), (occurs_1000_pentos, occurs_1000_ci_test), (occurs_1000_val, occurs_1000_ci_test), (occurs_1000_stripes, occurs_1000_ci_test)],
    ("occurs", 5000): [(occurs_5000_train, occurs_5000_ci_train), (occurs_5000_hexos, occurs_5000_ci_test), (occurs_5000_pentos, occurs_5000_ci_test), (occurs_5000_val, occurs_5000_ci_test), (occurs_5000_stripes, occurs_5000_ci_test)],
    ("same", 100): [(same_100_train, same_100_ci_train), (same_100_hexos, same_100_ci_test), (same_100_pentos, same_100_ci_test), (same_100_val, same_100_ci_test), (same_100_stripes, same_100_ci_stripes)],
    ("same", 1000): [(same_1000_train, same_1000_ci_train), (same_1000_hexos, same_1000_ci_test), (same_1000_pentos, same_1000_ci_test), (same_1000_val, same_1000_ci_test), (same_1000_stripes, same_1000_ci_test)],
    ("same", 5000): [(same_5000_train, same_5000_ci_train), (same_5000_hexos, same_5000_ci_test), (same_5000_pentos, same_5000_ci_test), (same_5000_val, same_5000_ci_test), (same_5000_stripes, same_5000_ci_test)],
}

# ---------------- layout (pixel geometry of the reference) ----------------
W, H = 747, 1120
COL_X = [(27.6, 234.0), (243.0, 450.0), (458.3, 666.0)]
ROW_TOP0, ROW_BOT0, ROW_PITCH = 13.0, 215.0, 220.5
FONT = "DejaVu Sans"
TXT = "#262626"


def rgba(hex_color, a):
    h = hex_color.lstrip("#")
    return "rgba(%d,%d,%d,%g)" % (int(h[0:2], 16), int(h[2:4], 16), int(h[4:6], 16), a)


fig = go.Figure()
annotations = []
shapes = []
layout_axes = {}

for r, task in enumerate(TASKS):
    top = ROW_TOP0 + r * ROW_PITCH
    bot = ROW_BOT0 + r * ROW_PITCH
    for c, size in enumerate(SIZES):
        idx = r * 3 + c + 1
        xname = "x" if idx == 1 else "x%d" % idx
        yname = "y" if idx == 1 else "y%d" % idx
        x0, x1 = COL_X[c]
        series = PANELS[(task, size)]
        for s, (mean, ci) in enumerate(series):
            n = min(len(EPOCHS), len(mean), len(ci))
            ep = EPOCHS[:n]
            upper = [mean[i] + ci[i] for i in range(n)]
            lower = [mean[i] - ci[i] for i in range(n)]
            fig.add_trace(go.Scatter(
                x=ep + ep[::-1], y=upper + lower[::-1], fill="toself",
                fillcolor=rgba(COLORS[s], 0.2), line=dict(width=0),
                mode="lines", hoverinfo="skip", showlegend=False,
                xaxis=xname, yaxis=yname))
            fig.add_trace(go.Scatter(
                x=ep, y=mean[:n], mode="lines", name=SERIES[s],
                line=dict(color=COLORS[s], width=1.1),
                showlegend=False, xaxis=xname, yaxis=yname))

        axis_common = dict(showgrid=False, zeroline=False, showline=True,
                           linecolor=TXT, linewidth=0.8, ticks="outside",
                           ticklen=2.5, tickwidth=0.8, tickcolor=TXT,
                           tickfont=dict(family=FONT, size=6, color=TXT))
        layout_axes["xaxis" if idx == 1 else "xaxis%d" % idx] = dict(
            axis_common, domain=[x0 / W, x1 / W], anchor=yname,
            range=[-7.45, 156.45], tickvals=X_TICKS,
            showticklabels=(r == len(TASKS) - 1))
        layout_axes["yaxis" if idx == 1 else "yaxis%d" % idx] = dict(
            axis_common, domain=[1 - bot / H, 1 - top / H], anchor=xname,
            range=[0.424, 1.064], tickvals=Y_TICKS, ticktext=Y_TICK_TEXT,
            showticklabels=(c == 0))

        annotations.append(dict(
            text="task = %s | train_size = %d" % (task, size),
            x=(x0 + x1) / 2 / W, y=1 - (top - 6.3) / H, xref="paper", yref="paper",
            showarrow=False, xanchor="center", yanchor="middle",
            font=dict(family=FONT, size=6.3, color=TXT)))
        if r == len(TASKS) - 1:
            annotations.append(dict(
                text="epoch", x=(x0 + x1) / 2 / W, y=1 - 1110.7 / H,
                xref="paper", yref="paper", showarrow=False,
                xanchor="center", yanchor="middle",
                font=dict(family=FONT, size=6.3, color=TXT)))
    annotations.append(dict(
        text="value", x=6.7 / W, y=1 - (top + bot) / 2 / H, xref="paper", yref="paper",
        showarrow=False, textangle=-90, xanchor="center", yanchor="middle",
        font=dict(family=FONT, size=6.3, color=TXT)))

# legend (drawn in paper space, like seaborn's figure legend)
annotations.append(dict(text="variable", x=705 / W, y=1 - 536 / H, xref="paper", yref="paper",
                        showarrow=False, xanchor="center", yanchor="middle",
                        font=dict(family=FONT, size=6.3, color=TXT)))
LEG_Y = [545.0, 554.3, 563.4, 572.7, 582.0]
for s, name in enumerate(SERIES):
    yy = 1 - LEG_Y[s] / H
    shapes.append(dict(type="line", xref="paper", yref="paper", x0=673 / W, x1=687 / W,
                       y0=yy, y1=yy, line=dict(color=COLORS[s], width=1.3)))
    annotations.append(dict(text=name, x=691 / W, y=yy, xref="paper", yref="paper",
                            showarrow=False, xanchor="left", yanchor="middle",
                            font=dict(family=FONT, size=6.1, color=TXT)))

fig.update_layout(
    width=W, height=H, margin=dict(l=0, r=0, t=0, b=0),
    paper_bgcolor="white", plot_bgcolor="white", showlegend=False,
    font=dict(family=FONT, size=6, color=TXT),
    annotations=annotations, shapes=shapes, **layout_axes)

# remove the browser's default 8px page margin so the figure fills the window exactly
fig.write_html("out.html", config={"displayModeBar": False},
               post_script="document.body.style.margin='0px';document.body.style.overflow='hidden';")
